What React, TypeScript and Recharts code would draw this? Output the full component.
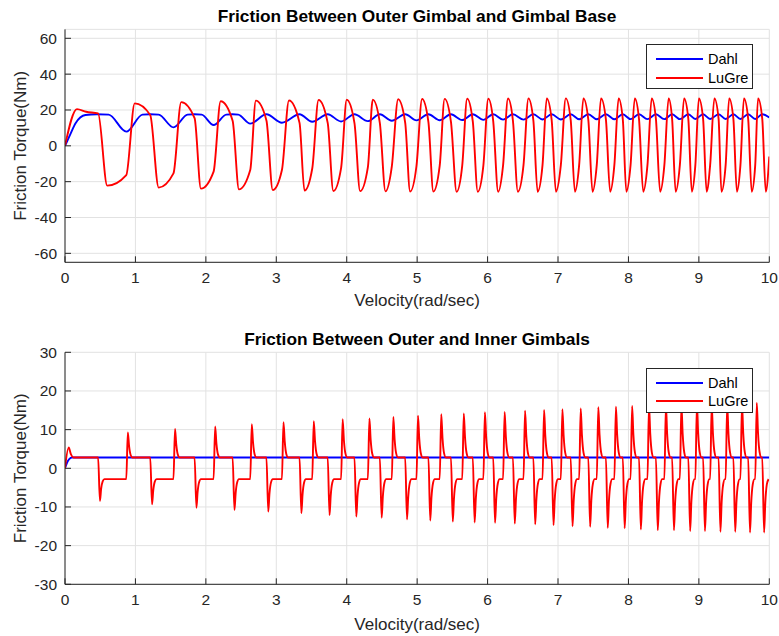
import { LineChart, Line, XAxis, YAxis, CartesianGrid, Legend } from 'recharts';

const FONT = '"Liberation Sans", Arial, Helvetica, sans-serif';
const AXIS_COLOR = '#262626';
const GRID_COLOR = '#e2e2e2';

const X_TICKS = [0, 1, 2, 3, 4, 5, 6, 7, 8, 9, 10];
const TOP_Y_TICKS = [-60, -40, -20, 0, 20, 40, 60];
const BOTTOM_Y_TICKS = [-30, -20, -10, 0, 10, 20, 30];

// velocities where the LuGre torque switches sign (same instants in both plots)
const downTimes = [0.47, 1.21, 1.84, 2.38, 2.86, 3.33, 3.73, 4.11, 4.47, 4.83, 5.16, 5.48, 5.79, 6.08, 6.36, 6.65, 6.91, 7.18, 7.43, 7.68, 7.92, 8.15, 8.39, 8.62, 8.85, 9.06, 9.28, 9.49, 9.70, 9.90];
const upTimes = [0.87, 1.54, 2.11, 2.63, 3.08, 3.51, 3.92, 4.30, 4.64, 4.99, 5.32, 5.64, 5.94, 6.22, 6.51, 6.78, 7.04, 7.30, 7.55, 7.80, 8.03, 8.27, 8.51, 8.73, 8.95, 9.16, 9.38, 9.59, 9.80];

// top plot, LuGre
const topLugreStart: [number, number][] = [[0, 0], [0.17, 20.5], [0.3, 19.0]];
const topKinkDownY = [18.1, 17.2, 15.4, 14.0, 14.2, 12.8, 12.8, 12.7, 12.8, 13.0, 13.2, 13.4, 13.6, 13.8, 14.0, 14.2, 14.4, 14.5, 14.6, 14.7, 14.8, 14.9, 15.0, 15.0, 15.0, 15.0, 15.0, 15.0, 15.0, 15.0];
const topTroughX = [0.60, 1.33, 1.93, 2.47, 2.95, 3.40, 3.81, 4.19, 4.55, 4.90, 5.23, 5.56, 5.86, 6.15, 6.43, 6.71, 6.97, 7.24, 7.49, 7.74, 7.97, 8.21, 8.45, 8.67, 8.90, 9.11, 9.32, 9.54, 9.75, 9.95];
const topTroughY = [-22.2, -23.3, -23.9, -24.3, -24.7, -25.0, -25.2, -25.3, -25.4, -25.5, -25.5, -25.6, -25.6, -25.6, -25.6, -25.6, -25.6, -25.6, -25.6, -25.6, -25.6, -25.6, -25.6, -25.6, -25.6, -25.6, -25.6, -25.6, -25.6, -25.6];
const topKinkUpY = [-16.3, -15.4, -14.4, -13.5, -13.5, -12.8, -12.4, -12.0, -11.6, -11.4, -11.2, -11.0, -11.0, -10.9, -10.8, -10.8, -10.8, -10.8, -10.8, -10.8, -10.8, -10.8, -10.8, -10.8, -10.8, -10.8, -10.8, -10.8, -10.8];
const topPeakX = [0.99, 1.65, 2.21, 2.71, 3.18, 3.60, 4.00, 4.37, 4.73, 5.07, 5.39, 5.71, 6.01, 6.29, 6.58, 6.84, 7.11, 7.36, 7.61, 7.86, 8.09, 8.33, 8.57, 8.79, 9.00, 9.22, 9.43, 9.64, 9.84];
const topPeakY = [23.7, 24.4, 24.9, 25.2, 25.3, 25.6, 25.7, 25.8, 26.0, 26.1, 26.2, 26.3, 26.3, 26.4, 26.4, 26.5, 26.5, 26.5, 26.5, 26.5, 26.5, 26.5, 26.5, 26.5, 26.5, 26.5, 26.5, 26.5, 26.5];
const topLugreEnd: [number, number] = [10, -6];

// top plot, Dahl
const dahlTop: [number, number][] = [
  [0, 0], [0.07, 6], [0.15, 12.6], [0.29, 17.2], [0.45, 17.6], [0.62, 17.4], [0.87, 7.9],
  [1.10, 17.4], [1.21, 17.6], [1.33, 17.4], [1.54, 10.3],
  [1.74, 17.4], [1.84, 17.6], [1.94, 17.4], [2.11, 11.6],
  [2.29, 17.4], [2.38, 17.6], [2.46, 17.4], [2.63, 12.4],
  [2.86, 17.6], [3.08, 12.9], [3.33, 17.6], [3.51, 13.4], [3.73, 17.6], [3.92, 13.6],
  [4.11, 17.6], [4.30, 13.8], [4.47, 17.6], [4.64, 14.0], [4.83, 17.6], [4.99, 14.2],
  [5.16, 17.6], [5.32, 14.3], [5.48, 17.6], [5.64, 14.4], [5.79, 17.6], [5.94, 14.5],
  [6.08, 17.6], [6.22, 14.6], [6.36, 17.6], [6.51, 14.6], [6.65, 17.6], [6.78, 14.7],
  [6.91, 17.6], [7.04, 14.7], [7.18, 17.6], [7.30, 14.8], [7.43, 17.6], [7.55, 14.8],
  [7.68, 17.6], [7.80, 14.8], [7.92, 17.6], [8.03, 14.9], [8.15, 17.6], [8.27, 14.9],
  [8.39, 17.6], [8.51, 14.9], [8.62, 17.6], [8.73, 14.9], [8.85, 17.6], [8.95, 15.0],
  [9.06, 17.6], [9.16, 15.0], [9.28, 17.6], [9.38, 15.0], [9.49, 17.6], [9.59, 15.0],
  [9.70, 17.6], [9.80, 15.0], [9.90, 17.6], [10, 15.8],
];

// bottom plot, LuGre: plateaus and spike extremes
const bottomLugreStart: [number, number][] = [[0, 0], [0.052, 5.4], [0.085, 3.6], [0.12, 2.8]];
const BOTTOM_HIGH = 2.8;
const BOTTOM_LOW = -2.8;
const bottomDownY = [-8.4, -9.3, -10.2, -10.8, -11.2, -11.6, -12.1, -12.5, -12.8, -13.2, -13.5, -13.8, -14.0, -14.1, -14.3, -14.5, -14.7, -15.0, -15.1, -15.4, -15.5, -15.8, -16.0, -16.0, -16.2, -16.2, -16.4, -16.4, -16.6, -16.6];
const bottomUpY = [9.3, 10.2, 10.8, 11.4, 11.9, 12.2, 12.7, 12.9, 13.3, 13.6, 14.0, 14.2, 14.5, 14.6, 14.9, 15.1, 15.3, 15.5, 15.8, 15.9, 16.1, 16.2, 16.3, 16.4, 16.5, 16.5, 16.6, 16.7, 16.9];

// bottom plot, Dahl
const dahlBottom: [number, number][] = [[0, 0], [0.03, 1.5], [0.06, 2.4], [0.1, 2.8], [10, 2.8]];

type Pt = { x: number; y: number };
const toPts = (arr: [number, number][]): Pt[] => arr.map(([x, y]) => ({ x, y }));

function buildTopLugre(): Pt[] {
  const pts = toPts(topLugreStart);
  downTimes.forEach((t, i) => {
    pts.push({ x: t, y: topKinkDownY[i] });
    pts.push({ x: topTroughX[i], y: topTroughY[i] });
    if (i < upTimes.length) {
      pts.push({ x: upTimes[i], y: topKinkUpY[i] });
      pts.push({ x: topPeakX[i], y: topPeakY[i] });
    }
  });
  pts.push({ x: topLugreEnd[0], y: topLugreEnd[1] });
  return pts;
}

// each switch: sharp jump to the spike, then a quick settle onto the plateau
function buildBottomLugre(): Pt[] {
  const pts = toPts(bottomLugreStart);
  downTimes.forEach((t, i) => {
    const d = bottomDownY[i];
    pts.push(
      { x: t, y: BOTTOM_HIGH },
      { x: t + 0.026, y: d },
      { x: t + 0.043, y: BOTTOM_LOW + 0.45 * (d - BOTTOM_LOW) },
      { x: t + 0.065, y: BOTTOM_LOW + 0.1 * (d - BOTTOM_LOW) },
      { x: t + 0.09, y: BOTTOM_LOW },
    );
    if (i < upTimes.length) {
      const u = upTimes[i];
      const h = bottomUpY[i];
      pts.push(
        { x: u, y: BOTTOM_LOW },
        { x: u + 0.022, y: h },
        { x: u + 0.04, y: BOTTOM_HIGH + 0.45 * (h - BOTTOM_HIGH) },
        { x: u + 0.062, y: BOTTOM_HIGH + 0.1 * (h - BOTTOM_HIGH) },
        { x: u + 0.088, y: BOTTOM_HIGH },
      );
    }
  });
  return pts;
}

const topLugre = buildTopLugre();
const bottomLugre = buildBottomLugre();
const topDahl = toPts(dahlTop);
const bottomDahl = toPts(dahlBottom);

const tickStyle = { fontSize: 15.5, fill: AXIS_COLOR, fontFamily: FONT };
const labelStyle = { fontSize: 17, fill: AXIS_COLOR, fontFamily: FONT };

function BoxLegend({ payload }: any) {
  return (
    <div
      style={{
        width: 107,
        height: 45,
        boxSizing: 'border-box',
        border: `1px solid ${AXIS_COLOR}`,
        background: '#fff',
        position: 'relative',
        fontFamily: FONT,
        fontSize: 14.5,
        color: '#000',
      }}
    >
      {(payload ?? []).map((entry: any, i: number) => (
        <div
          key={entry.value}
          style={{ position: 'absolute', left: 9, top: 4.5 + i * 18.6, height: 19, display: 'flex', alignItems: 'center' }}
        >
          <span style={{ display: 'inline-block', width: 47, height: 0, borderTop: `2px solid ${entry.color}`, marginRight: 5 }} />
          <span>{entry.value}</span>
        </div>
      ))}
    </div>
  );
}

interface PanelProps {
  height: number;
  top: number;
  bottom: number;
  domain: [number, number];
  yTicks: number[];
  dahl: Pt[];
  lugre: Pt[];
  labelOffset: number;
  legendTop: number;
}

function Panel({ height, top, bottom, domain, yTicks, dahl, lugre, labelOffset, legendTop }: PanelProps) {
  return (
    <LineChart width={779} height={height} margin={{ top, right: 9.7, bottom: 0, left: 0 }}>
      <CartesianGrid stroke={GRID_COLOR} />
      <XAxis
        dataKey="x"
        type="number"
        domain={[0, 10]}
        ticks={X_TICKS}
        interval={0}
        allowDataOverflow
        height={bottom}
        stroke={AXIS_COLOR}
        tickSize={-6}
        tickMargin={16}
        tick={tickStyle}
        label={{ value: 'Velocity(rad/sec)', position: 'insideBottom', offset: labelOffset, style: labelStyle }}
      />
      <XAxis xAxisId="top" orientation="top" type="number" domain={[0, 10]} ticks={X_TICKS} interval={0} height={0} stroke={AXIS_COLOR} tickSize={-6} tick={false} />
      <YAxis
        type="number"
        domain={domain}
        ticks={yTicks}
        interval={0}
        allowDataOverflow
        width={65}
        stroke={AXIS_COLOR}
        tickSize={-6}
        tickMargin={14}
        tick={tickStyle}
        label={{ value: 'Friction Torque(Nm)', angle: -90, position: 'insideLeft', offset: 20, style: { ...labelStyle, textAnchor: 'middle' } }}
      />
      <YAxis yAxisId="right" orientation="right" type="number" domain={domain} ticks={yTicks} interval={0} width={0} stroke={AXIS_COLOR} tickSize={-6} tick={false} />
      <Legend
        layout="vertical"
        align="center"
        verticalAlign="middle"
        content={<BoxLegend />}
        wrapperStyle={{ left: 646, top: legendTop, width: 107, height: 45 }}
      />
      <Line data={dahl} dataKey="y" name="Dahl" type="monotone" stroke="#0000ff" strokeWidth={1.9} dot={false} activeDot={false} isAnimationActive={false} />
      <Line data={lugre} dataKey="y" name="LuGre" type="monotone" stroke="#ff0000" strokeWidth={1.9} dot={false} activeDot={false} isAnimationActive={false} />
    </LineChart>
  );
}

const titleStyle = (top: number) => ({
  position: 'absolute' as const,
  left: 65,
  width: 704,
  top,
  textAlign: 'center' as const,
  fontFamily: FONT,
  fontSize: 17.3,
  lineHeight: '17px',
  fontWeight: 'bold' as const,
  color: '#000',
});

export default function App() {
  return (
    <div style={{ position: 'absolute', left: 0, top: 0, width: 779, height: 636, background: '#fff', fontFamily: FONT }}>
      <div style={{ position: 'absolute', left: 0, top: 0 }}>
        <Panel height={320} top={29.35} bottom={57.7} domain={[-65, 65]} yTicks={TOP_Y_TICKS} dahl={topDahl} lugre={topLugre} labelOffset={14} legendTop={44} />
      </div>
      <div style={{ position: 'absolute', left: 0, top: 320 }}>
        <Panel height={316} top={32.3} bottom={51.7} domain={[-30, 30]} yTicks={BOTTOM_Y_TICKS} dahl={bottomDahl} lugre={bottomLugre} labelOffset={6} legendTop={47.5} />
      </div>
      <div style={titleStyle(7.7)}>Friction Between Outer Gimbal and Gimbal Base</div>
      <div style={titleStyle(330.7)}>Friction Between Outer and Inner Gimbals</div>
    </div>
  );
}
